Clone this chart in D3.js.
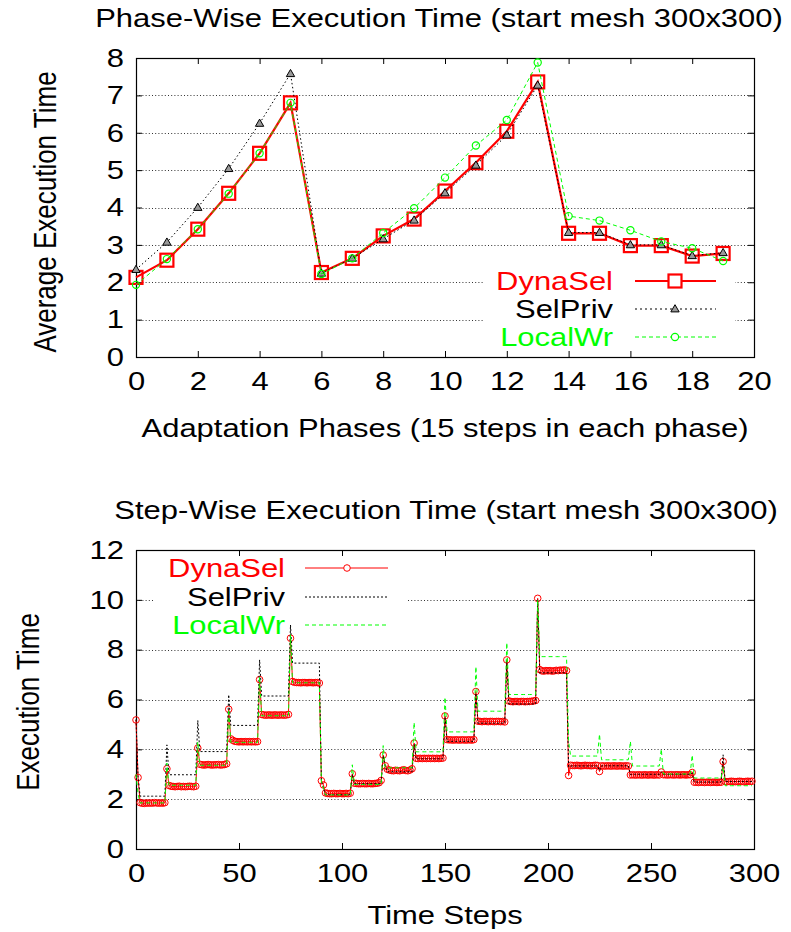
<!DOCTYPE html>
<html>
<head>
<meta charset="utf-8">
<script src="https://cdn.jsdelivr.net/npm/d3@7"></script>
<style>
  body { margin: 0; background: #fff; }
  svg { display: block; font-family: "Liberation Sans", Arial, Helvetica, sans-serif; }
</style>
</head>
<body>
<svg id="chart" width="791" height="932"></svg>
<script>
// ---- Phase-wise averages (20 adaptation phases) ----
const phaseIds = [0, 1, 2, 3, 4, 5, 6, 7, 8, 9, 10, 11, 12, 13, 14, 15, 16, 17, 18, 19];
const phaseDynaSel = [2.13, 2.59, 3.42, 4.38, 5.45, 6.80, 2.26, 2.64, 3.24, 3.69,
                      4.44, 5.20, 6.04, 7.36, 3.31, 3.31, 2.98, 2.98, 2.70, 2.77];
const phaseSelPriv = [2.34, 3.07, 4.00, 5.04, 6.25, 7.58, 2.24, 2.64, 3.16, 3.66,
                      4.39, 5.13, 5.94, 7.27, 3.33, 3.33, 3.00, 3.00, 2.71, 2.79];
const phaseLocalWr = [1.93, 2.62, 3.42, 4.37, 5.45, 6.80, 2.22, 2.64, 3.32, 3.98,
                      4.80, 5.66, 6.34, 7.88, 3.77, 3.65, 3.39, 3.09, 2.91, 2.57];

// ---- Step-wise times (300 time steps, one row per phase of 15 steps) ----
const stepDynaSel = [
  5.18, 2.87, 1.86, 1.84, 1.83, 1.85, 1.84, 1.85, 1.84, 1.86, 1.85, 1.84, 1.85, 1.84, 1.86,
  3.22, 2.55, 2.52, 2.51, 2.50, 2.51, 2.52, 2.50, 2.51, 2.50, 2.51, 2.52, 2.51, 2.50, 2.52,
  4.05, 3.40, 3.38, 3.37, 3.38, 3.39, 3.38, 3.37, 3.38, 3.38, 3.39, 3.37, 3.38, 3.39, 3.42,
  5.61, 4.42, 4.36, 4.32, 4.31, 4.30, 4.31, 4.30, 4.31, 4.30, 4.31, 4.30, 4.31, 4.30, 4.31,
  6.80, 5.40, 5.38, 5.37, 5.38, 5.38, 5.37, 5.38, 5.38, 5.37, 5.38, 5.38, 5.37, 5.38, 5.40,
  8.46, 6.72, 6.69, 6.68, 6.68, 6.67, 6.68, 6.68, 6.67, 6.68, 6.68, 6.67, 6.68, 6.68, 6.66,
  2.74, 2.57, 2.25, 2.23, 2.22, 2.22, 2.23, 2.22, 2.22, 2.23, 2.22, 2.22, 2.23, 2.22, 2.24,
  3.02, 2.64, 2.63, 2.62, 2.62, 2.63, 2.62, 2.62, 2.63, 2.62, 2.62, 2.63, 2.64, 2.66, 2.75,
  3.77, 3.34, 3.20, 3.17, 3.15, 3.14, 3.16, 3.15, 3.14, 3.16, 3.18, 3.15, 3.14, 3.17, 3.22,
  4.25, 3.64, 3.63, 3.64, 3.63, 3.64, 3.63, 3.64, 3.63, 3.64, 3.63, 3.64, 3.63, 3.64, 3.65,
  5.34, 4.39, 4.38, 4.38, 4.37, 4.38, 4.38, 4.37, 4.38, 4.38, 4.37, 4.38, 4.38, 4.37, 4.39,
  6.32, 5.13, 5.12, 5.11, 5.12, 5.12, 5.11, 5.12, 5.12, 5.11, 5.12, 5.12, 5.11, 5.12, 5.10,
  7.59, 5.94, 5.92, 5.91, 5.92, 5.92, 5.91, 5.92, 5.92, 5.91, 5.92, 5.92, 5.93, 5.94, 5.96,
  10.06, 7.20, 7.15, 7.14, 7.16, 7.15, 7.16, 7.14, 7.15, 7.17, 7.16, 7.18, 7.17, 7.19, 7.16,
  2.95, 3.36, 3.35, 3.35, 3.36, 3.35, 3.34, 3.35, 3.36, 3.35, 3.35, 3.34, 3.35, 3.36, 3.35,
  3.11, 3.34, 3.33, 3.33, 3.34, 3.33, 3.33, 3.34, 3.33, 3.33, 3.34, 3.33, 3.33, 3.34, 3.33,
  2.97, 2.98, 2.97, 2.97, 2.98, 2.97, 2.97, 2.98, 2.97, 2.97, 2.98, 2.97, 2.97, 2.98, 2.97,
  3.09, 2.98, 2.98, 2.97, 2.98, 2.98, 2.97, 2.98, 2.98, 2.97, 2.98, 2.98, 2.97, 2.98, 2.98,
  3.07, 2.68, 2.68, 2.67, 2.68, 2.68, 2.67, 2.68, 2.68, 2.67, 2.68, 2.68, 2.67, 2.68, 2.68,
  3.51, 2.71, 2.70, 2.71, 2.72, 2.71, 2.70, 2.71, 2.72, 2.71, 2.70, 2.71, 2.72, 2.71, 2.72
];
const stepSelPriv = [
  5.20, 2.90, 2.12, 2.12, 2.12, 2.12, 2.12, 2.12, 2.12, 2.12, 2.12, 2.12, 2.12, 2.12, 2.12,
  4.18, 2.98, 2.98, 2.98, 2.98, 2.98, 2.98, 2.98, 2.98, 2.98, 2.98, 2.98, 2.98, 2.98, 2.98,
  5.16, 3.91, 3.91, 3.91, 3.91, 3.91, 3.91, 3.91, 3.91, 3.91, 3.91, 3.91, 3.91, 3.91, 3.91,
  6.19, 4.96, 4.96, 4.96, 4.96, 4.96, 4.96, 4.96, 4.96, 4.96, 4.96, 4.96, 4.96, 4.96, 4.96,
  7.59, 6.14, 6.14, 6.14, 6.14, 6.14, 6.14, 6.14, 6.14, 6.14, 6.14, 6.14, 6.14, 6.14, 6.14,
  8.99, 7.46, 7.46, 7.46, 7.46, 7.46, 7.46, 7.46, 7.46, 7.46, 7.46, 7.46, 7.46, 7.46, 7.46,
  2.70, 2.45, 2.18, 2.18, 2.18, 2.18, 2.18, 2.18, 2.18, 2.18, 2.18, 2.18, 2.18, 2.18, 2.18,
  3.00, 2.62, 2.62, 2.62, 2.62, 2.62, 2.62, 2.62, 2.62, 2.62, 2.62, 2.62, 2.62, 2.62, 2.62,
  3.75, 3.30, 3.10, 3.10, 3.10, 3.10, 3.10, 3.10, 3.10, 3.10, 3.10, 3.10, 3.10, 3.10, 3.10,
  4.20, 3.62, 3.62, 3.62, 3.62, 3.62, 3.62, 3.62, 3.62, 3.62, 3.62, 3.62, 3.62, 3.62, 3.62,
  5.30, 4.32, 4.32, 4.32, 4.32, 4.32, 4.32, 4.32, 4.32, 4.32, 4.32, 4.32, 4.32, 4.32, 4.32,
  6.25, 5.05, 5.05, 5.05, 5.05, 5.05, 5.05, 5.05, 5.05, 5.05, 5.05, 5.05, 5.05, 5.05, 5.05,
  7.55, 5.82, 5.82, 5.82, 5.82, 5.82, 5.82, 5.82, 5.82, 5.82, 5.82, 5.82, 5.82, 5.82, 5.82,
  10.00, 7.07, 7.07, 7.07, 7.07, 7.07, 7.07, 7.07, 7.07, 7.07, 7.07, 7.07, 7.07, 7.07, 7.07,
  3.30, 3.33, 3.33, 3.33, 3.33, 3.33, 3.33, 3.33, 3.33, 3.33, 3.33, 3.33, 3.33, 3.33, 3.33,
  3.15, 3.34, 3.34, 3.34, 3.34, 3.34, 3.34, 3.34, 3.34, 3.34, 3.34, 3.34, 3.34, 3.34, 3.34,
  2.99, 3.00, 3.00, 3.00, 3.00, 3.00, 3.00, 3.00, 3.00, 3.00, 3.00, 3.00, 3.00, 3.00, 3.00,
  3.10, 3.00, 3.00, 3.00, 3.00, 3.00, 3.00, 3.00, 3.00, 3.00, 3.00, 3.00, 3.00, 3.00, 3.00,
  3.05, 2.69, 2.69, 2.69, 2.69, 2.69, 2.69, 2.69, 2.69, 2.69, 2.69, 2.69, 2.69, 2.69, 2.69,
  3.78, 2.71, 2.71, 2.71, 2.71, 2.71, 2.71, 2.71, 2.71, 2.71, 2.71, 2.71, 2.71, 2.71, 2.71
];
const stepLocalWr = [
  3.00, 2.20, 1.85, 1.85, 1.85, 1.85, 1.85, 1.85, 1.85, 1.85, 1.85, 1.85, 1.85, 1.85, 1.85,
  3.45, 2.56, 2.56, 2.56, 2.56, 2.56, 2.56, 2.56, 2.56, 2.56, 2.56, 2.56, 2.56, 2.56, 2.56,
  4.30, 3.36, 3.36, 3.36, 3.36, 3.36, 3.36, 3.36, 3.36, 3.36, 3.36, 3.36, 3.36, 3.36, 3.36,
  5.60, 4.28, 4.28, 4.28, 4.28, 4.28, 4.28, 4.28, 4.28, 4.28, 4.28, 4.28, 4.28, 4.28, 4.28,
  6.90, 5.35, 5.35, 5.35, 5.35, 5.35, 5.35, 5.35, 5.35, 5.35, 5.35, 5.35, 5.35, 5.35, 5.35,
  8.60, 6.67, 6.67, 6.67, 6.67, 6.67, 6.67, 6.67, 6.67, 6.67, 6.67, 6.67, 6.67, 6.67, 6.67,
  2.70, 2.45, 2.17, 2.17, 2.17, 2.17, 2.17, 2.17, 2.17, 2.17, 2.17, 2.17, 2.17, 2.17, 2.17,
  3.38, 2.59, 2.59, 2.59, 2.59, 2.59, 2.59, 2.59, 2.59, 2.59, 2.59, 2.59, 2.59, 2.59, 2.59,
  4.15, 3.26, 3.26, 3.26, 3.26, 3.26, 3.26, 3.26, 3.26, 3.26, 3.26, 3.26, 3.26, 3.26, 3.26,
  5.08, 3.90, 3.90, 3.90, 3.90, 3.90, 3.90, 3.90, 3.90, 3.90, 3.90, 3.90, 3.90, 3.90, 3.90,
  6.09, 4.70, 4.70, 4.70, 4.70, 4.70, 4.70, 4.70, 4.70, 4.70, 4.70, 4.70, 4.70, 4.70, 4.70,
  7.32, 5.53, 5.53, 5.53, 5.53, 5.53, 5.53, 5.53, 5.53, 5.53, 5.53, 5.53, 5.53, 5.53, 5.53,
  8.28, 6.20, 6.20, 6.20, 6.20, 6.20, 6.20, 6.20, 6.20, 6.20, 6.20, 6.20, 6.20, 6.20, 6.20,
  10.00, 7.72, 7.72, 7.72, 7.72, 7.72, 7.72, 7.72, 7.72, 7.72, 7.72, 7.72, 7.72, 7.72, 7.72,
  4.30, 3.73, 3.73, 3.73, 3.73, 3.73, 3.73, 3.73, 3.73, 3.73, 3.73, 3.73, 3.73, 3.73, 3.73,
  4.61, 3.58, 3.58, 3.58, 3.58, 3.58, 3.58, 3.58, 3.58, 3.58, 3.58, 3.58, 3.58, 3.58, 3.58,
  4.32, 3.33, 3.33, 3.33, 3.33, 3.33, 3.33, 3.33, 3.33, 3.33, 3.33, 3.33, 3.33, 3.33, 3.33,
  4.01, 3.01, 3.01, 3.01, 3.01, 3.01, 3.01, 3.01, 3.01, 3.01, 3.01, 3.01, 3.01, 3.01, 3.01,
  3.77, 2.85, 2.85, 2.85, 2.85, 2.85, 2.85, 2.85, 2.85, 2.85, 2.85, 2.85, 2.85, 2.85, 2.85,
  3.30, 2.54, 2.54, 2.54, 2.54, 2.54, 2.54, 2.54, 2.54, 2.54, 2.54, 2.54, 2.54, 2.54, 2.54
];

// ---- Axis ticks and labels ----
const topXTicks = [0, 2, 4, 6, 8, 10, 12, 14, 16, 18, 20];
const topYTicks = [0, 1, 2, 3, 4, 5, 6, 7, 8];
const botXTicks = [0, 50, 100, 150, 200, 250, 300];
const botYTicks = [0, 2, 4, 6, 8, 10, 12];
const seriesNames = ["DynaSel", "SelPriv", "LocalWr"];

// ---- Drawing ----
const RED = "#ff0000", GREEN = "#00ff00", BLACK = "#000000";
const SX = 1.19;        // horizontal stretch of the lettering
const FS = 26;          // base font size
const svg = d3.select("#chart");

function label(g, s, x, y, opt = {}) {
  const t = g.append("text")
    .attr("transform", `translate(${x},${y}) scale(${SX},1)` + (opt.rotate ? " rotate(-90)" : ""))
    .attr("text-anchor", opt.anchor || "middle")
    .attr("font-size", opt.size || FS)
    .attr("fill", opt.fill || BLACK)
    .text(s);
  return t;
}

function stretchTicks(sel) {
  sel.selectAll(".tick text").each(function () {
    const t = d3.select(this);
    const x = +t.attr("x") || 0, y = +t.attr("y") || 0;
    t.attr("x", 0).attr("y", 0).attr("transform", `translate(${x},${y}) scale(${SX},1)`);
  });
}

function frame(g, x, y, xTicks, yTicks, keyGap) {
  const [x0, x1] = x.range(), [y0, y1] = y.range();
  // horizontal dotted grid
  const grid = g.append("g");
  yTicks.filter(v => v !== y.domain()[0] && v !== y.domain()[1]).forEach(v => {
    const yy = Math.round(y(v)) + 0.5;
    grid.append("line").attr("x1", x0).attr("x2", x1).attr("y1", yy).attr("y2", yy)
      .attr("stroke", "#333").attr("stroke-width", 1).attr("stroke-dasharray", "1,2.2");
  });
  if (keyGap) {
    g.append("rect").attr("x", keyGap[0]).attr("y", keyGap[1])
      .attr("width", keyGap[2] - keyGap[0]).attr("height", keyGap[3] - keyGap[1]).attr("fill", "#fff");
  }
  // axes with inward ticks on all four sides
  const style = a => a.call(s => s.select(".domain").remove())
    .call(s => s.selectAll("line").attr("stroke", BLACK))
    .call(s => s.selectAll("text").attr("font-size", FS).attr("fill", BLACK)
      .attr("font-family", '"Liberation Sans", Arial, Helvetica, sans-serif'));
  const bx = g.append("g").attr("transform", `translate(0,${y0})`)
    .call(d3.axisBottom(x).tickValues(xTicks).tickSizeInner(-6).tickSizeOuter(0).tickPadding(15).tickFormat(d3.format("d")));
  style(bx); stretchTicks(bx);
  const tx = g.append("g").attr("transform", `translate(0,${y1})`)
    .call(d3.axisTop(x).tickValues(xTicks).tickSizeInner(-6).tickSizeOuter(0).tickFormat(""));
  style(tx);
  const ly = g.append("g").attr("transform", `translate(${x0},0)`)
    .call(d3.axisLeft(y).tickValues(yTicks).tickSizeInner(-6).tickSizeOuter(0).tickPadding(12).tickFormat(d3.format("d")));
  style(ly); stretchTicks(ly);
  const ry = g.append("g").attr("transform", `translate(${x1},0)`)
    .call(d3.axisRight(y).tickValues(yTicks).tickSizeInner(-6).tickSizeOuter(0).tickFormat(""));
  style(ry);
  g.append("rect").attr("x", x0 + 0.5).attr("y", y1 + 0.5)
    .attr("width", x1 - x0).attr("height", y0 - y1)
    .attr("fill", "none").attr("stroke", BLACK).attr("stroke-width", 1.2);
}

// ================= Phase-wise chart =================
{
  const g = svg.append("g");
  const x = d3.scaleLinear().domain([0, 20]).range([136, 754]);
  const y = d3.scaleLinear().domain([0, 8]).range([357, 58]);
  frame(g, x, y, topXTicks, topYTicks, [483, 266, 735, 356]);

  const line = vals => d3.line().x((d, i) => x(phaseIds[i])).y(d => y(d))(vals);
  const tri = d3.symbol().type(d3.symbolTriangle).size(30);

  // DynaSel
  g.append("path").attr("d", line(phaseDynaSel)).attr("fill", "none")
    .attr("stroke", RED).attr("stroke-width", 2.2);
  g.selectAll(".sq").data(phaseDynaSel).join("rect")
    .attr("x", (d, i) => x(phaseIds[i]) - 6.5).attr("y", d => y(d) - 6.5)
    .attr("width", 13).attr("height", 13).attr("fill", "none")
    .attr("stroke", RED).attr("stroke-width", 2.2);
  // SelPriv
  g.append("path").attr("d", line(phaseSelPriv)).attr("fill", "none")
    .attr("stroke", BLACK).attr("stroke-width", 1).attr("stroke-dasharray", "1.5,2.5");
  g.selectAll(".tri").data(phaseSelPriv).join("path")
    .attr("d", tri).attr("transform", (d, i) => `translate(${x(phaseIds[i])},${y(d) + 0.5})`)
    .attr("fill", "#999").attr("stroke", BLACK).attr("stroke-width", 1);
  // LocalWr
  g.append("path").attr("d", line(phaseLocalWr)).attr("fill", "none")
    .attr("stroke", GREEN).attr("stroke-width", 1).attr("stroke-dasharray", "4,3");
  g.selectAll(".ci").data(phaseLocalWr).join("circle")
    .attr("cx", (d, i) => x(phaseIds[i])).attr("cy", d => y(d)).attr("r", 3.6)
    .attr("fill", "none").attr("stroke", GREEN).attr("stroke-width", 1.2);

  // key
  const keyY = [281, 309, 337], kx0 = 635, kx1 = 716, km = 675;
  label(g, seriesNames[0], 613, keyY[0] + 9, { anchor: "end", fill: RED });
  label(g, seriesNames[1], 613, keyY[1] + 9, { anchor: "end" });
  label(g, seriesNames[2], 613, keyY[2] + 9, { anchor: "end", fill: GREEN });
  g.append("line").attr("x1", kx0).attr("x2", kx1).attr("y1", keyY[0]).attr("y2", keyY[0])
    .attr("stroke", RED).attr("stroke-width", 2.2);
  g.append("rect").attr("x", km - 6.5).attr("y", keyY[0] - 6.5).attr("width", 13).attr("height", 13)
    .attr("fill", "#fff").attr("stroke", RED).attr("stroke-width", 2.2);
  g.append("line").attr("x1", kx0).attr("x2", kx1).attr("y1", keyY[1]).attr("y2", keyY[1])
    .attr("stroke", BLACK).attr("stroke-width", 1).attr("stroke-dasharray", "2,3");
  g.append("path").attr("d", tri).attr("transform", `translate(${km},${keyY[1] + 0.5})`)
    .attr("fill", "#999").attr("stroke", BLACK);
  g.append("line").attr("x1", kx0).attr("x2", kx1).attr("y1", keyY[2]).attr("y2", keyY[2])
    .attr("stroke", GREEN).attr("stroke-width", 1).attr("stroke-dasharray", "4,3");
  g.append("circle").attr("cx", km).attr("cy", keyY[2]).attr("r", 3.6)
    .attr("fill", "#fff").attr("stroke", GREEN).attr("stroke-width", 1.2);

  label(svg, "Phase-Wise Execution Time (start mesh 300x300)", 439, 27);
  label(svg, "Adaptation Phases (15 steps in each phase)", 445, 437);
  label(svg, "Average Execution Time", 56, 212, { rotate: true });
}

// ================= Step-wise chart =================
{
  const g = svg.append("g");
  const x = d3.scaleLinear().domain([0, 300]).range([136, 754]);
  const y = d3.scaleLinear().domain([0, 12]).range([849, 550]);
  frame(g, x, y, botXTicks, botYTicks, [155, 552, 407, 640]);

  const line = vals => d3.line().x((d, i) => x(i)).y(d => y(d))(vals);

  // DynaSel
  g.append("path").attr("d", line(stepDynaSel)).attr("fill", "none")
    .attr("stroke", RED).attr("stroke-width", 1);
  g.selectAll(".pt").data(stepDynaSel).join("circle")
    .attr("cx", (d, i) => x(i)).attr("cy", d => y(d)).attr("r", 3.3)
    .attr("fill", "none").attr("stroke", RED).attr("stroke-width", 1);
  // SelPriv
  g.append("path").attr("d", line(stepSelPriv)).attr("fill", "none")
    .attr("stroke", BLACK).attr("stroke-width", 1).attr("stroke-dasharray", "2,2");
  // LocalWr
  g.append("path").attr("d", line(stepLocalWr)).attr("fill", "none")
    .attr("stroke", GREEN).attr("stroke-width", 1).attr("stroke-dasharray", "4,3");

  // key
  const keyY = [568, 597, 625], kx0 = 305, kx1 = 388, km = 347;
  label(g, seriesNames[0], 285, keyY[0] + 9, { anchor: "end", fill: RED });
  label(g, seriesNames[1], 285, keyY[1] + 9, { anchor: "end" });
  label(g, seriesNames[2], 285, keyY[2] + 9, { anchor: "end", fill: GREEN });
  g.append("line").attr("x1", kx0).attr("x2", kx1).attr("y1", keyY[0]).attr("y2", keyY[0])
    .attr("stroke", RED).attr("stroke-width", 1);
  g.append("circle").attr("cx", km).attr("cy", keyY[0]).attr("r", 3.3)
    .attr("fill", "#fff").attr("stroke", RED);
  g.append("line").attr("x1", kx0).attr("x2", kx1).attr("y1", keyY[1]).attr("y2", keyY[1])
    .attr("stroke", BLACK).attr("stroke-width", 1).attr("stroke-dasharray", "2,2");
  g.append("line").attr("x1", kx0).attr("x2", kx1).attr("y1", keyY[2]).attr("y2", keyY[2])
    .attr("stroke", GREEN).attr("stroke-width", 1).attr("stroke-dasharray", "4,3");

  label(svg, "Step-Wise Execution Time (start mesh 300x300)", 446, 519);
  label(svg, "Time Steps", 445, 924);
  label(svg, "Execution Time", 39, 702, { rotate: true });
}
</script>
</body>
</html>
